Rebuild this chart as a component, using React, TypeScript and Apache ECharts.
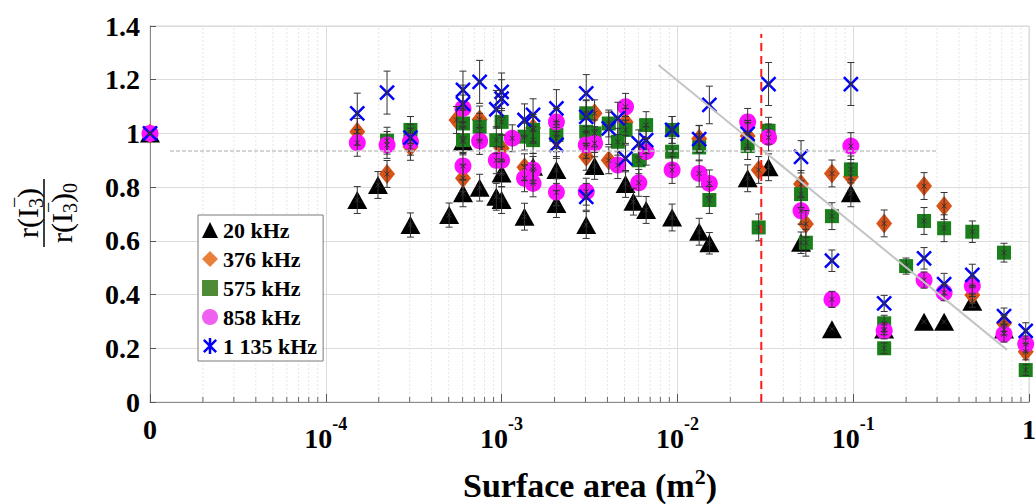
import React, { useEffect, useRef } from "react";
import * as echarts from "echarts";

const FONT = "'Liberation Serif', 'Times New Roman', serif";

const seriesNames = ["20 kHz", "376 kHz", "575 kHz", "858 kHz", "1 135 kHz"];
const seriesColors = ["#000000", "#D95319", "#1B7F1B", "#FF10FF", "#0000FF"];
const xAxisTitle = "{t|Surface area (m}{s|2}{t|)}";

// [surface area (m²), normalised ratio, error half-width]
const pts20 = [
  [1e-5, 1.0, 0], [1.51e-4, 0.752, 0.05], [1.98e-4, 0.808, 0.05], [3.03e-4, 0.659, 0.045],
  [5.03e-4, 0.696, 0.045], [6.03e-4, 0.97, 0.05], [6.03e-4, 0.777, 0.05], [7.5e-4, 0.798, 0.05],
  [9.33e-4, 0.764, 0.05], [1.0e-3, 0.851, 0.05], [1.0e-3, 0.752, 0.05], [1.35e-3, 0.69, 0.05],
  [1.51e-3, 0.876, 0.05], [2.05e-3, 0.864, 0.05], [2.05e-3, 0.737, 0.05], [3.03e-3, 0.659, 0.05],
  [3.38e-3, 0.879, 0.05], [5.07e-3, 0.812, 0.05], [5.62e-3, 0.746, 0.05], [6.64e-3, 0.715, 0.05],
  [9.33e-3, 0.687, 0.05], [1.33e-2, 0.634, 0.05], [1.52e-2, 0.591, 0.04], [2.51e-2, 0.833, 0.05],
  [3.3e-2, 0.874, 0.05], [5.05e-2, 0.593, 0.04], [7.57e-2, 0.271, 0], [9.7e-2, 0.777, 0.05],
  [0.15, 0.27, 0.02], [0.253, 0.299, 0], [0.329, 0.299, 0], [0.476, 0.373, 0.02], [0.721, 0.27, 0.02],
];
const pts376 = [
  [1e-5, 1.0, 0], [1.51e-4, 1.006, 0.05], [2.23e-4, 0.849, 0.05], [3.03e-4, 0.95, 0.05],
  [5.54e-4, 1.05, 0.05], [6.03e-4, 0.833, 0.05], [7.5e-4, 1.052, 0.05], [1.0e-3, 0.945, 0.05],
  [1.35e-3, 0.874, 0.05], [1.51e-3, 1.02, 0.05], [2.05e-3, 0.982, 0.05], [3.03e-3, 0.913, 0.05],
  [3.38e-3, 1.075, 0.05], [4.07e-3, 0.9, 0.05], [5.07e-3, 1.043, 0.05], [1.33e-2, 0.98, 0.05],
  [2.51e-2, 0.99, 0.05], [2.9e-2, 0.864, 0.05], [5.05e-2, 0.812, 0.05], [5.38e-2, 0.663, 0.05],
  [7.57e-2, 0.851, 0.05], [9.7e-2, 0.839, 0.05], [0.15, 0.665, 0.05], [0.253, 0.804, 0.05],
  [0.329, 0.73, 0.05], [0.476, 0.398, 0.03], [0.721, 0.293, 0.03], [0.958, 0.187, 0.03],
];
const pts575 = [
  [1e-5, 1.0, 0], [2.23e-4, 0.973, 0.05], [3.03e-4, 1.013, 0.05], [6.03e-4, 1.037, 0.05],
  [6.03e-4, 0.975, 0.05], [7.5e-4, 1.025, 0.05], [9.33e-4, 0.975, 0.05], [1.0e-3, 1.043, 0.05],
  [1.35e-3, 0.988, 0.05], [1.51e-3, 1.013, 0.05], [1.51e-3, 0.975, 0.05], [2.05e-3, 0.994, 0.05],
  [3.03e-3, 1.075, 0.05], [3.03e-3, 1.006, 0.05], [3.38e-3, 1.0, 0.05], [4.07e-3, 1.037, 0.05],
  [4.58e-3, 0.969, 0.05], [5.07e-3, 1.013, 0.05], [6.03e-3, 0.9, 0.05], [6.64e-3, 1.031, 0.05],
  [9.33e-3, 1.013, 0.05], [9.33e-3, 0.932, 0.05], [1.33e-2, 0.948, 0.05], [1.52e-2, 0.752, 0.05],
  [2.51e-2, 0.953, 0.05], [2.9e-2, 0.65, 0.05], [3.3e-2, 1.01, 0.05], [5.05e-2, 0.774, 0.05],
  [5.38e-2, 0.593, 0.05], [7.57e-2, 0.692, 0.05], [9.7e-2, 0.866, 0.05], [0.15, 0.293, 0.03],
  [0.15, 0.2, 0.02], [0.2, 0.506, 0.03], [0.253, 0.674, 0.05], [0.329, 0.647, 0.05],
  [0.476, 0.634, 0.04], [0.721, 0.556, 0.035], [0.958, 0.119, 0.02],
];
const pts858 = [
  [1e-5, 1.0, 0], [1.51e-4, 0.965, 0.05], [2.23e-4, 0.957, 0.05], [3.03e-4, 0.969, 0.05],
  [6.03e-4, 1.093, 0.05], [6.03e-4, 0.879, 0.05], [7.5e-4, 0.972, 0.05], [9.33e-4, 0.9, 0.05],
  [1.0e-3, 0.9, 0.05], [1.15e-3, 0.982, 0.05], [1.35e-3, 0.833, 0.05], [1.51e-3, 0.864, 0.05],
  [1.51e-3, 0.814, 0.05], [2.05e-3, 1.043, 0.05], [2.05e-3, 0.781, 0.05], [3.03e-3, 0.957, 0.05],
  [3.03e-3, 0.783, 0.05], [3.38e-3, 0.963, 0.05], [4.58e-3, 0.882, 0.05], [5.07e-3, 1.099, 0.05],
  [6.03e-3, 0.816, 0.05], [6.64e-3, 0.932, 0.05], [9.33e-3, 0.864, 0.05], [1.33e-2, 0.851, 0.05],
  [1.52e-2, 0.814, 0.05], [2.51e-2, 1.043, 0.05], [3.3e-2, 0.985, 0.05], [5.05e-2, 0.712, 0.05],
  [7.57e-2, 0.382, 0.03], [9.7e-2, 0.953, 0.05], [0.15, 0.265, 0.03], [0.253, 0.454, 0.03],
  [0.329, 0.407, 0.03], [0.476, 0.432, 0.03], [0.721, 0.253, 0.03], [0.958, 0.216, 0.03],
];
const pts1135 = [
  [1e-5, 1.0, 0], [1.51e-4, 1.075, 0.075], [2.23e-4, 1.152, 0.08], [3.03e-4, 0.984, 0.05],
  [6.03e-4, 1.162, 0.07], [6.03e-4, 1.11, 0.07], [7.5e-4, 1.192, 0.08], [9.33e-4, 1.09, 0.07],
  [1.0e-3, 1.155, 0.07], [1.0e-3, 1.13, 0.07], [1.35e-3, 1.05, 0.06], [1.51e-3, 1.069, 0.06],
  [2.05e-3, 1.093, 0.07], [2.05e-3, 0.957, 0.05], [3.03e-3, 1.149, 0.07], [3.03e-3, 1.062, 0.06],
  [3.03e-3, 0.764, 0.05], [4.07e-3, 1.019, 0.06], [4.58e-3, 1.056, 0.06], [5.07e-3, 0.907, 0.05],
  [6.03e-3, 0.963, 0.05], [6.64e-3, 0.975, 0.05], [9.33e-3, 1.013, 0.05], [1.33e-2, 0.979, 0.05],
  [1.52e-2, 1.106, 0.07], [2.51e-2, 0.998, 0.05], [3.3e-2, 1.184, 0.08], [5.05e-2, 0.913, 0.06],
  [7.57e-2, 0.526, 0.04], [9.7e-2, 1.184, 0.08], [0.15, 0.367, 0.03], [0.253, 0.535, 0.04],
  [0.329, 0.439, 0.04], [0.476, 0.473, 0.04], [0.721, 0.32, 0.03], [0.958, 0.265, 0.03],
];

const meanLine = [[1.3e-5, 0.935], [0.3, 0.935]];
const trendLine = [[0.0078, 1.255], [0.75, 0.194]];
const thresholdLine = [[0.03, 0], [0.03, 1.37]];

const xMin = 1e-5;
const xMax = 1;
const yMin = 0;
const yMax = 1.4;
const yStep = 0.2;
const decadeExponents = [-5, -4, -3, -2, -1];
const minorMultipliers = [2, 3, 4, 5, 6, 7, 8, 9];

const X_PATH = "path://M0,0L10,10M10,0L0,10";
const X_LEGEND_PATH = "path://M0,0L10,10M10,0L0,10M5,-1.5L5,11.5";

export default function App() {
  const ref = useRef<HTMLDivElement>(null);

  useEffect(() => {
    if (!ref.current) return;
    const chart = echarts.init(ref.current, undefined, { renderer: "svg" });

    const minorTicks: number[][] = [];
    decadeExponents.forEach((e) =>
      minorMultipliers.forEach((m) => minorTicks.push([m * Math.pow(10, e), 0]))
    );

    const allSets = [pts20, pts376, pts575, pts858, pts1135];
    const errData = ([] as number[][]).concat(...allSets);

    const symbols: any[] = ["triangle", "diamond", "rect", "circle", X_PATH];
    const sizes: any[] = [[20, 18], [16, 20], 14, 17, 14];

    const scatterSeries = allSets.map((pts, i) => ({
      type: "scatter",
      name: seriesNames[i],
      data: pts.map((p) => [p[0], p[1]]),
      symbol: symbols[i],
      symbolSize: sizes[i],
      clip: false,
      z: 3 + i,
      itemStyle:
        i === 4
          ? { color: "rgba(0,0,0,0)", borderColor: seriesColors[i], borderWidth: 2.5, opacity: 1 }
          : { color: seriesColors[i], opacity: 1 },
      emphasis: { disabled: true },
    }));

    const option: any = {
      animation: false,
      backgroundColor: "#ffffff",
      grid: {
        left: 150,
        right: 6,
        top: 26,
        bottom: 102,
        containLabel: false,
        outerBoundsMode: "none",
        show: true,
        borderColor: "#d6d6d6",
        borderWidth: 1,
      },
      xAxis: {
        type: "log",
        logBase: 10,
        min: xMin,
        max: xMax,
        axisLine: { show: true, lineStyle: { color: "#8a8a8a", width: 1 } },
        axisTick: { show: true, inside: true, length: 8, lineStyle: { color: "#555" } },
        splitLine: { show: true, lineStyle: { color: "#dcdcdc", width: 1 } },
        axisLabel: {
          margin: 13,
          showMinLabel: true,
          showMaxLabel: true,
          formatter: (v: number) => {
            const e = Math.round(Math.log10(v));
            if (e === -5) return "{z|0}";
            if (e === 0) return "{z|1}";
            return `{b|10}{s|${e}}`;
          },
          rich: {
            b: { fontFamily: FONT, fontWeight: "bold", fontSize: 28, color: "#000", lineHeight: 37, verticalAlign: "bottom" },
            s: { fontFamily: FONT, fontWeight: "bold", fontSize: 18, color: "#000", lineHeight: 16, verticalAlign: "top" },
            z: { fontFamily: FONT, fontWeight: "bold", fontSize: 28, color: "#000", lineHeight: 18, verticalAlign: "top" },
          },
        },
      },
      yAxis: {
        type: "value",
        min: yMin,
        max: yMax,
        interval: yStep,
        axisLine: { show: true, lineStyle: { color: "#8a8a8a", width: 1 } },
        axisTick: { show: true, inside: true, length: 6, lineStyle: { color: "#555" } },
        splitLine: { show: true, lineStyle: { color: "#dcdcdc", width: 1 } },
        axisLabel: {
          margin: 10,
          fontFamily: FONT,
          fontWeight: "bold",
          fontSize: 28,
          color: "#000",
          formatter: (v: number) => String(Number(v.toFixed(1))),
        },
      },
      legend: {
        orient: "vertical",
        left: 198,
        top: 215,
        padding: [4, 6, 4, 4],
        itemGap: 7,
        itemWidth: 16,
        itemHeight: 16,
        backgroundColor: "#ffffff",
        borderColor: "#7a7a7a",
        borderWidth: 1,
        selectedMode: false,
        textStyle: { fontFamily: FONT, fontWeight: "bold", fontSize: 22, color: "#000" },
        data: [
          { name: seriesNames[0], icon: "triangle" },
          { name: seriesNames[1], icon: "diamond", itemStyle: { color: "#E8803A" } },
          { name: seriesNames[2], icon: "rect", itemStyle: { color: "#4F8A36" } },
          { name: seriesNames[3], icon: "circle", itemStyle: { color: "#F060F0" } },
          {
            name: seriesNames[4],
            icon: X_LEGEND_PATH,
            itemStyle: { color: "rgba(0,0,0,0)", borderColor: "#0000FF", borderWidth: 2.5 },
          },
        ],
      },
      graphic: [
        {
          type: "text",
          x: 590,
          y: 465,
          style: {
            text: xAxisTitle,
            align: "center",
            verticalAlign: "top",
            rich: {
              t: { fontFamily: FONT, fontWeight: "bold", fontSize: 34, fill: "#000", lineHeight: 40, verticalAlign: "middle" },
              s: { fontFamily: FONT, fontWeight: "bold", fontSize: 22, fill: "#000", lineHeight: 10, verticalAlign: "top" },
            },
          },
        },
        {
          type: "group",
          x: 44,
          y: 213,
          rotation: Math.PI / 2,
          children: [
            { type: "line", shape: { x1: -34, y1: 0, x2: 34, y2: 0 }, style: { stroke: "#000", lineWidth: 1.5 } },
            { type: "text", x: -25, y: -17, style: { text: "r(I", font: `30px ${FONT}`, fill: "#000", align: "left", verticalAlign: "middle" } },
            { type: "text", x: 5, y: -8, style: { text: "3", font: `20px ${FONT}`, fill: "#000", align: "left", verticalAlign: "middle" } },
            { type: "text", x: 5, y: -30, style: { text: "\u2212", font: `20px ${FONT}`, fill: "#000", align: "left", verticalAlign: "middle" } },
            { type: "text", x: 15, y: -17, style: { text: ")", font: `30px ${FONT}`, fill: "#000", align: "left", verticalAlign: "middle" } },
            { type: "text", x: -30, y: 17, style: { text: "r(I", font: `30px ${FONT}`, fill: "#000", align: "left", verticalAlign: "middle" } },
            { type: "text", x: 0, y: 26, style: { text: "3", font: `20px ${FONT}`, fill: "#000", align: "left", verticalAlign: "middle" } },
            { type: "text", x: 0, y: 4, style: { text: "\u2212", font: `20px ${FONT}`, fill: "#000", align: "left", verticalAlign: "middle" } },
            { type: "text", x: 10, y: 17, style: { text: ")", font: `30px ${FONT}`, fill: "#000", align: "left", verticalAlign: "middle" } },
            { type: "text", x: 20, y: 26, style: { text: "0", font: `20px ${FONT}`, fill: "#000", align: "left", verticalAlign: "middle" } },
          ],
        },
      ],
      series: [
        {
          type: "custom",
          name: "minor",
          silent: true,
          z: 1,
          data: minorTicks,
          encode: { x: 0, y: 1 },
          renderItem: (params: any, api: any) => {
            const v = api.value(0);
            const b = api.coord([v, yMin]);
            const t = api.coord([v, yMax]);
            return {
              type: "group",
              children: [
                { type: "line", shape: { x1: b[0], y1: b[1], x2: t[0], y2: t[1] }, style: { stroke: "#e6e6e6", lineWidth: 1, lineDash: [2, 2] } },
                { type: "line", shape: { x1: b[0], y1: b[1], x2: b[0], y2: b[1] - 5 }, style: { stroke: "#666", lineWidth: 1 } },
              ],
            };
          },
        },
        ...scatterSeries,
        {
          type: "custom",
          name: "errors",
          silent: true,
          z: 9,
          data: errData,
          encode: { x: 0, y: 1 },
          renderItem: (params: any, api: any) => {
            const x = api.value(0);
            const y = api.value(1);
            const e = api.value(2);
            const c = api.coord([x, y]);
            const children: any[] = [];
            const st = { stroke: "#333", lineWidth: 1 };
            if (e > 0) {
              const lo = api.coord([x, y - e]);
              const hi = api.coord([x, y + e]);
              children.push({ type: "line", shape: { x1: c[0], y1: lo[1], x2: c[0], y2: hi[1] }, style: st });
              children.push({ type: "line", shape: { x1: c[0] - 3.5, y1: lo[1], x2: c[0] + 3.5, y2: lo[1] }, style: st });
              children.push({ type: "line", shape: { x1: c[0] - 3.5, y1: hi[1], x2: c[0] + 3.5, y2: hi[1] }, style: st });
            }
            children.push({ type: "line", shape: { x1: c[0] - 2.5, y1: c[1] - 2.5, x2: c[0] + 2.5, y2: c[1] + 2.5 }, style: st });
            children.push({ type: "line", shape: { x1: c[0] - 2.5, y1: c[1] + 2.5, x2: c[0] + 2.5, y2: c[1] - 2.5 }, style: st });
            return { type: "group", children };
          },
        },
        {
          type: "line",
          name: "mean",
          data: meanLine,
          symbol: "none",
          silent: true,
          z: 10,
          lineStyle: { color: "#c6c6c6", width: 1.5, type: [4, 2] },
        },
        {
          type: "line",
          name: "trend",
          data: trendLine,
          symbol: "none",
          silent: true,
          z: 10,
          lineStyle: { color: "#c4c4c4", width: 2, type: "solid" },
        },
        {
          type: "line",
          name: "threshold",
          data: thresholdLine,
          symbol: "none",
          silent: true,
          z: 11,
          lineStyle: { color: "#ff1a1a", width: 2, type: [8, 5] },
        },
      ],
    };

    chart.setOption(option);
    return () => chart.dispose();
  }, []);

  return (
    <div
      ref={ref}
      style={{ position: "fixed", left: 0, top: 0, width: 1035, height: 504, background: "#fff" }}
    />
  );
}
